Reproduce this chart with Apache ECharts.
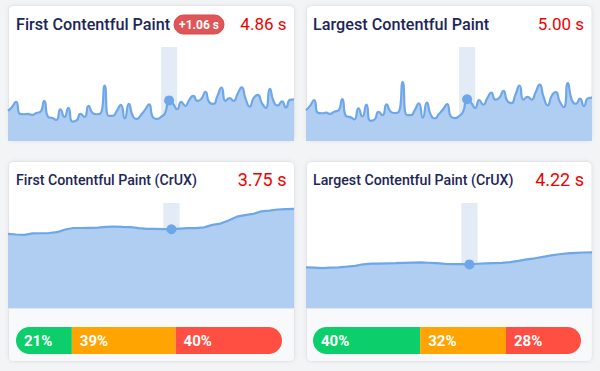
<!DOCTYPE html>
<html><head><meta charset="utf-8">
<script src="https://cdn.jsdelivr.net/npm/echarts/dist/echarts.min.js"></script>
<style>html,body{margin:0;padding:0;background:#f3f4f6;}#c{width:600px;height:371px;}</style>
</head><body><div id="c"></div>
<script>
// ---- data ----
const titles = ['First Contentful Paint', 'Largest Contentful Paint', 'First Contentful Paint (CrUX)', 'Largest Contentful Paint (CrUX)'];
const headlineValues = ['4.86 s', '5.00 s', '3.75 s', '4.22 s'];
const fcpBadge = '+1.06 s';

const fcpLab = [3.60,4.08,4.68,3.24,3.20,3.24,3.12,3.36,3.48,4.80,
  2.88,2.76,2.52,3.80,2.88,3.96,2.32,2.46,3.24,2.88,
  4.20,3.36,3.20,3.30,6.64,3.00,3.00,3.60,4.32,2.70,
  4.44,3.00,2.64,3.12,3.72,4.38,2.84,2.64,2.88,3.36,
  4.86,4.44,3.80,4.68,4.20,4.92,5.40,4.80,5.04,5.88,
  4.62,4.44,5.40,6.40,4.80,5.12,4.80,5.64,6.42,5.04,
  4.12,5.16,5.52,4.56,3.96,6.24,4.68,4.26,4.74,4.02,
  4.92,4.98];
const lcpLab = [3.68,4.20,4.88,3.36,3.32,3.40,3.24,3.51,3.63,5.00,
  2.96,2.86,2.60,3.92,2.93,4.36,2.42,2.56,3.49,3.08,
  4.40,3.51,3.35,3.45,7.04,3.12,3.10,3.70,4.52,2.80,
  4.60,3.10,2.70,3.22,3.77,4.42,2.92,2.74,2.98,3.51,
  5.00,4.59,3.95,4.88,4.35,5.12,5.80,4.95,5.19,6.00,
  4.77,4.54,5.55,6.64,4.95,5.27,4.95,5.84,6.74,5.24,
  4.27,5.41,5.84,4.71,4.04,6.92,4.88,4.46,5.06,4.17,
  5.12,5.18];
const fcpCrux = [3.53,3.50,3.48,3.55,3.56,3.57,3.61,3.74,3.81,3.81,
  3.82,3.83,3.86,3.88,3.86,3.85,3.80,3.77,3.77,3.76,
  3.75,3.78,3.80,3.80,3.84,3.96,4.02,4.17,4.35,4.42,
  4.48,4.60,4.64,4.69,4.71,4.72];
const lcpCrux = [3.93,3.90,3.86,3.90,3.94,4.00,4.08,4.23,4.29,4.30,
  4.32,4.34,4.37,4.39,4.41,4.38,4.34,4.27,4.25,4.25,
  4.22,4.28,4.31,4.34,4.37,4.44,4.56,4.71,4.81,4.95,
  5.09,5.20,5.28,5.34,5.37,5.38];
const labHighlight = 40;
const cruxHighlight = 20;
const distNames = ['Good', 'Needs improvement', 'Poor'];
const fcpDist = [21, 39, 40];
const lcpDist = [40, 32, 28];

// ---- styles / layout ----
const LINE = '#6ea7e9', AREA = '#afcef2', BAND = '#e3ecf6';
const TITLE = '#1c2659', VALUE = '#ee0000';
const DIST_COLORS = ['#0cce6b', '#ffa400', '#ff4e42'];
const FONT = 'Roboto';

const chart = echarts.init(document.getElementById('c'), null, {renderer: 'svg'});

const grids = [
  {left: 8, top: 47, width: 286, height: 94},
  {left: 306, top: 47, width: 286, height: 94},
  {left: 8, top: 203, width: 286, height: 105},
  {left: 306, top: 203, width: 286, height: 105},
  {left: 16, top: 327, width: 266, height: 27},
  {left: 313, top: 327, width: 268, height: 27}
];
const sparkData = [fcpLab, lcpLab, fcpCrux, lcpCrux];
const yMax = [11.25, 11.25, 5, 10.16];
const hl = [labHighlight, labHighlight, cruxHighlight, cruxHighlight];
const bandHalf = [2, 2, 1, 1];

const xAxes = [], yAxes = [], series = [];
sparkData.forEach((d, g) => {
  xAxes.push({gridIndex: g, type: 'category', boundaryGap: false, show: false, data: d.map((_, i) => i)});
  yAxes.push({gridIndex: g, type: 'value', min: 0, max: yMax[g], show: false});
  series.push({
    type: 'line', xAxisIndex: g, yAxisIndex: g, data: d,
    smooth: g < 2 ? 0.6 : false, symbol: 'none', silent: true,
    lineStyle: {color: LINE, width: 2.2},
    areaStyle: {color: AREA, opacity: 1},
    markArea: {silent: true, itemStyle: {color: BAND}, data: [[{xAxis: hl[g] - bandHalf[g]}, {xAxis: hl[g] + bandHalf[g]}]]},
    markPoint: {silent: true, symbol: 'circle', symbolSize: 10, itemStyle: {color: LINE}, label: {show: false},
      data: [{coord: [hl[g], d[hl[g]]]}]}
  });
});
[fcpDist, lcpDist].forEach((dist, k) => {
  const g = 4 + k;
  xAxes.push({gridIndex: g, type: 'value', min: 0, max: 100, show: false});
  yAxes.push({gridIndex: g, type: 'category', show: false, data: ['share']});
  dist.forEach((v, j) => {
    series.push({
      type: 'bar', name: distNames[j], stack: 'dist' + k, xAxisIndex: g, yAxisIndex: g,
      barWidth: 27, silent: true, data: [v],
      itemStyle: {color: DIST_COLORS[j], borderRadius: j === 0 ? [13.5, 0, 0, 13.5] : (j === 2 ? [0, 13.5, 13.5, 0] : 0)},
      label: {show: true, position: 'insideLeft', distance: 8, formatter: '{c}%', color: '#fff',
        fontWeight: 'bold', fontSize: 15, fontFamily: FONT}
    });
  });
});

const cards = [
  {x: 8.5, y: 5.5, w: 286, h: 135.5},
  {x: 306.5, y: 5.5, w: 285.5, h: 135.5},
  {x: 8.5, y: 161.5, w: 286, h: 200},
  {x: 306.5, y: 161.5, w: 285.5, h: 200}
];
const graphic = [];
cards.forEach((c, i) => {
  graphic.push({type: 'rect', z: -10, shape: {x: c.x, y: c.y, width: c.w, height: c.h, r: 5},
    style: {fill: '#fff', stroke: '#e2e5ea', lineWidth: 1, shadowBlur: 4, shadowColor: 'rgba(0,0,0,0.06)'}});
  if (i >= 2) {
    graphic.push({type: 'rect', z: -9, shape: {x: c.x + 0.5, y: 308.5, width: c.w - 1, height: c.y + c.h - 309, r: [0, 0, 5, 5]},
      style: {fill: '#f8f9fa', stroke: null}});
    graphic.push({type: 'line', z: -8, shape: {x1: c.x, y1: 308.5, x2: c.x + c.w, y2: 308.5},
      style: {stroke: '#e4e6ea', lineWidth: 1}});
  }
  const big = i < 2;
  graphic.push({type: 'text', z: 10, x: c.x + (i % 2 === 0 ? 7.5 : 6.5), y: big ? 24 : 179.5,
    style: {text: titles[i], fill: TITLE, fontFamily: FONT, fontWeight: 500, fontSize: big ? 16.2 : 14.2,
      align: 'left', verticalAlign: 'middle'}});
  graphic.push({type: 'text', z: 10, x: c.x + c.w - 8, y: big ? 24 : 179.5,
    style: {text: headlineValues[i], fill: VALUE, fontFamily: FONT, fontWeight: 400, fontSize: big ? 17 : 18,
      align: 'right', verticalAlign: 'middle'}});
});
graphic.push({type: 'rect', z: 10, shape: {x: 174, y: 15, width: 50, height: 19, r: 9.5},
  style: {fill: '#e05557', stroke: '#d44a4c', lineWidth: 1}});
graphic.push({type: 'text', z: 11, x: 199, y: 24.5,
  style: {text: fcpBadge, fill: '#fff', fontFamily: FONT, fontWeight: 'bold', fontSize: 12, align: 'center', verticalAlign: 'middle'}});

chart.setOption({
  animation: false,
  grid: grids.map(g => Object.assign({containLabel: false}, g)),
  xAxis: xAxes, yAxis: yAxes, series, graphic
});
</script></body></html>
